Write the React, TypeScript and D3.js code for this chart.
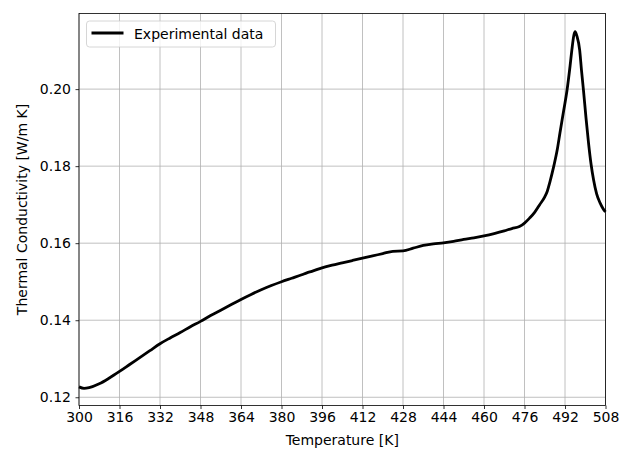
import { useEffect, useRef } from 'react';
import * as d3 from 'd3';

// temperature [K] and conductivity [W/m K]
const temps = [
  300, 302, 304, 308, 312, 316, 320, 324, 328, 332, 336, 340, 344, 348, 352, 356, 360, 364,
  368, 372, 376, 380, 384, 388, 390, 392, 396, 400, 404, 408, 412, 416, 420, 424, 428, 432,
  436, 440, 444, 448, 452, 456, 460, 464, 468, 471, 474, 476, 478, 480, 482, 484, 485, 486,
  487.5, 489, 490, 491.5, 492.8, 494, 494.7, 495.5, 496, 496.7, 497.8, 498.5, 499.3, 500.3,
  501.3, 502.3, 503.3, 504.5, 505.9, 507, 508,
];
const conductivity = [
  0.1227, 0.1223, 0.1225, 0.1235, 0.1250, 0.1267, 0.1285, 0.1303, 0.1321, 0.1339, 0.1354,
  0.1368, 0.1383, 0.1397, 0.1412, 0.1426, 0.1440, 0.1454, 0.1467, 0.1479, 0.1490, 0.1500,
  0.1509, 0.1518, 0.1523, 0.1527, 0.1536, 0.1543, 0.1549, 0.1555, 0.1561, 0.1567, 0.1573,
  0.1579, 0.1580, 0.1587, 0.1594, 0.1598, 0.1601, 0.1605, 0.1610, 0.1614, 0.1619, 0.1625,
  0.1632, 0.1638, 0.1643, 0.1652, 0.1665, 0.1680, 0.1700, 0.1720, 0.1735, 0.1758, 0.1798,
  0.1845, 0.1886, 0.1945, 0.1997, 0.2060, 0.2101, 0.2140, 0.2149, 0.2138, 0.2101, 0.2050,
  0.1997, 0.1925, 0.1860, 0.1805, 0.1764, 0.1728, 0.1704, 0.1690, 0.1681,
];
const xTicks = [300, 316, 332, 348, 364, 380, 396, 412, 428, 444, 460, 476, 492, 508];
const yTicks = [0.12, 0.14, 0.16, 0.18, 0.2];
const seriesName = 'Experimental data';

export default function App() {
  const svgRef = useRef<SVGSVGElement | null>(null);

  useEffect(() => {
    if (!svgRef.current) return;
    const W = 621;
    const H = 451;
    const m = { top: 13.5, right: 15.5, bottom: 45.5, left: 79 };
    const iW = W - m.left - m.right;
    const iH = H - m.top - m.bottom;
    const font = 'DejaVu Sans, sans-serif';
    const fs = 14;

    const svg = d3.select(svgRef.current);
    svg.selectAll('*').remove();
    svg.attr('width', W).attr('height', H);

    const points = temps.map((t, i) => ({ t, v: conductivity[i] }));

    const x = d3.scaleLinear().domain([300, 508]).range([0, iW]);
    const y = d3.scaleLinear().domain([0.11786, 0.21963]).range([iH, 0]);

    const g = svg.append('g').attr('transform', `translate(${m.left},${m.top})`);

    // grid
    g.append('g')
      .selectAll('line')
      .data(xTicks)
      .join('line')
      .attr('x1', d => x(d)).attr('x2', d => x(d))
      .attr('y1', 0).attr('y2', iH)
      .attr('stroke', '#b0b0b0').attr('stroke-width', 0.8);
    g.append('g')
      .selectAll('line')
      .data(yTicks)
      .join('line')
      .attr('x1', 0).attr('x2', iW)
      .attr('y1', d => y(d)).attr('y2', d => y(d))
      .attr('stroke', '#b0b0b0').attr('stroke-width', 0.8);

    // curve
    const line = d3.line<{ t: number; v: number }>()
      .x(d => x(d.t))
      .y(d => y(d.v))
      .curve(d3.curveMonotoneX);

    g.append('path')
      .datum(points)
      .attr('fill', 'none')
      .attr('stroke', '#000')
      .attr('stroke-width', 2.8)
      .attr('stroke-linejoin', 'round')
      .attr('d', line);

    // axes
    g.append('g')
      .attr('transform', `translate(0,${iH})`)
      .call(d3.axisBottom(x).tickValues(xTicks).tickFormat(d3.format('d')).tickSize(3.5).tickPadding(3.5))
      .call(ax => ax.select('.domain').remove())
      .call(ax => ax.selectAll('line').attr('stroke', '#000').attr('stroke-width', 0.8))
      .call(ax => ax.selectAll('text').attr('fill', '#000').attr('font-size', fs).attr('font-family', font));

    g.append('g')
      .call(d3.axisLeft(y).tickValues(yTicks).tickFormat(d3.format('.2f')).tickSize(3.5).tickPadding(4.5))
      .call(ax => ax.select('.domain').remove())
      .call(ax => ax.selectAll('line').attr('stroke', '#000').attr('stroke-width', 0.8))
      .call(ax => ax.selectAll('text').attr('fill', '#000').attr('font-size', fs).attr('font-family', font));

    // frame
    g.append('rect')
      .attr('width', iW).attr('height', iH)
      .attr('fill', 'none').attr('stroke', '#000').attr('stroke-width', 0.8);

    // axis labels
    svg.append('text')
      .attr('x', m.left + iW / 2).attr('y', 445)
      .attr('text-anchor', 'middle')
      .attr('font-family', font).attr('font-size', fs)
      .text('Temperature [K]');
    svg.append('text')
      .attr('transform', `translate(27,${m.top + iH / 2}) rotate(-90)`)
      .attr('text-anchor', 'middle')
      .attr('font-family', font).attr('font-size', fs)
      .text('Thermal Conductivity [W/m K]');

    // legend
    const lg = svg.append('g').attr('transform', `translate(${m.left + 7.5},${m.top + 7.5})`);
    lg.append('rect')
      .attr('width', 189).attr('height', 26).attr('rx', 3)
      .attr('fill', '#fff').attr('fill-opacity', 0.8)
      .attr('stroke', '#cccccc').attr('stroke-width', 0.8);
    lg.append('line')
      .attr('x1', 5).attr('x2', 37).attr('y1', 12).attr('y2', 12)
      .attr('stroke', '#000').attr('stroke-width', 2.8);
    lg.append('text')
      .attr('x', 47.5).attr('y', 17.5)
      .attr('font-family', font).attr('font-size', fs)
      .text(seriesName);
  }, []);

  return (
    <svg ref={svgRef} style={{ position: 'absolute', left: 0, top: 0, background: '#fff' }} />
  );
}
